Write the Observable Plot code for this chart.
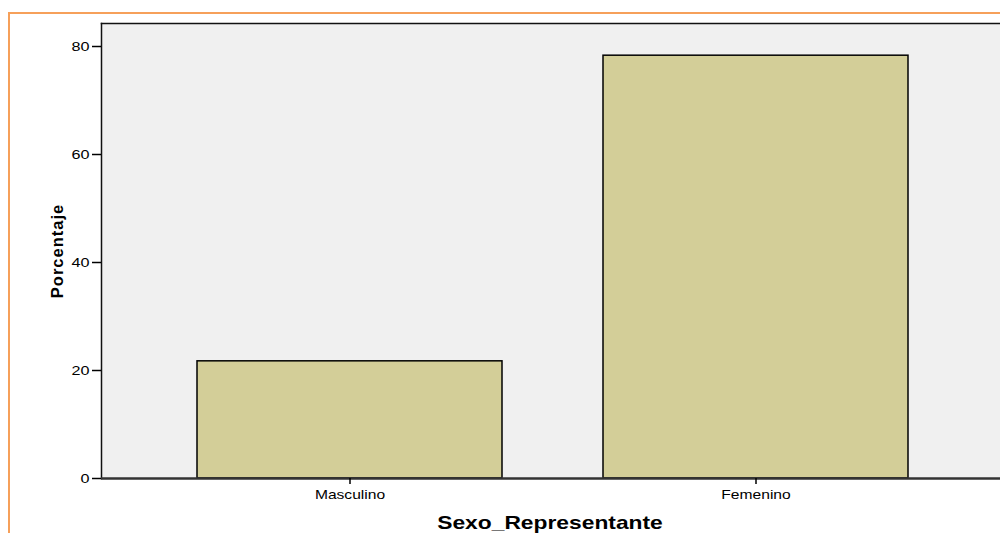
<!DOCTYPE html>
<html>
<head>
<meta charset="utf-8">
<script src="https://cdn.jsdelivr.net/npm/d3@7"></script>
<script src="https://cdn.jsdelivr.net/npm/@observablehq/plot@0.6"></script>
<style>
  html, body { margin: 0; padding: 0; background: #fff; overflow: hidden; width: 1000px; height: 533px; }
  #wrap { position: relative; width: 1000px; height: 533px; overflow: hidden; }
  #border { position: absolute; left: 8px; top: 12px; width: 1100px; height: 600px; border: 2px solid #f6a05a; box-sizing: border-box; }
  #chart { position: absolute; left: 0; top: 0; width: 1010px; }
  #chart svg { max-width: none !important; width: 1010px; height: 533px; }
</style>
</head>
<body>
<div id="wrap">
  <div id="border"></div>
  <div id="chart"></div>
</div>
<script>
const categories = ["Masculino", "Femenino"];
const percentages = [21.7, 78.3];
const yTicks = [0, 20, 40, 60, 80];
const xTitle = "Sexo_Representante";
const yTitle = "Porcentaje";

const data = categories.map((c, i) => ({cat: c, pct: percentages[i]}));

const chart = Plot.plot({
  width: 1010,
  height: 533,
  marginLeft: 101,
  marginRight: 6,
  marginTop: 23,
  marginBottom: 55,
  style: {background: "transparent", fontFamily: "'Liberation Sans', Arial, sans-serif", color: "#000", maxWidth: "none"},
  x: {domain: categories, paddingInner: 0.25, paddingOuter: 0.236, label: null},
  y: {domain: [0, 84.26], label: null},
  marks: [
    Plot.frame({fill: "#f0f0f0", stroke: null}),
    Plot.barY(data, {x: "cat", y: "pct", fill: "#d3ce98", stroke: "#000", strokeWidth: 1.5, inset: 0}),
    Plot.frame({anchor: "left", stroke: "#111", strokeWidth: 1.5}),
    Plot.frame({anchor: "top", stroke: "#111", strokeWidth: 1.5}),
    Plot.ruleY([0], {stroke: "#333", strokeWidth: 2.5}),
    Plot.axisY({ticks: yTicks, tickSize: 9, tickPadding: 3, fontSize: 13.5, label: null, stroke: "#000", strokeWidth: 1.5, strokeOpacity: 1}),
    Plot.axisX({tickSize: 6, tickPadding: 5, fontSize: 13, label: null, stroke: "#000", strokeWidth: 1.5, strokeOpacity: 1}),
    Plot.text([xTitle], {frameAnchor: "bottom", dy: 50, dx: -3, lineAnchor: "bottom", fontSize: 19, fontWeight: "bold", fill: "#000"}),
    Plot.text([yTitle], {frameAnchor: "left", dx: -44, rotate: -90, textAnchor: "middle", lineAnchor: "middle", fontSize: 16.5, fontWeight: "bold", fill: "#000", className: "ytitle"})
  ]
});

document.getElementById("chart").appendChild(chart);

// stretch text horizontally like the original renderer (not the rotated title)
d3.select(chart).selectAll("text").each(function() {
  if (this.closest(".ytitle")) {
    this.setAttribute("letter-spacing", "1");
    return;
  }
  const len = this.getComputedTextLength();
  if (len > 0) {
    this.setAttribute("textLength", (len * 1.2).toFixed(1));
    this.setAttribute("lengthAdjust", "spacingAndGlyphs");
  }
});
</script>
</body>
</html>
